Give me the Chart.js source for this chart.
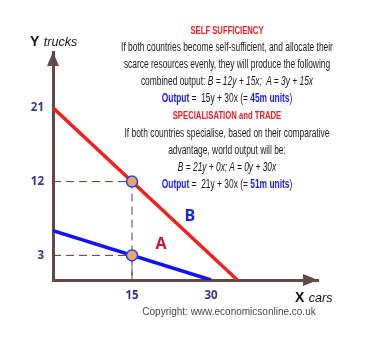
<!DOCTYPE html>
<html>
<head>
<meta charset="utf-8">
<script src="https://cdn.jsdelivr.net/npm/chart.js@4.4.1/dist/chart.umd.min.js"></script>
<style>
  html, body { margin: 0; padding: 0; background: #fff; }
  #wrap { position: relative; width: 384px; height: 341px; overflow: hidden; font-family: "Liberation Sans", Arial, sans-serif; }
  #chart { position: absolute; left: 0; top: 0; }
  .notes { position: absolute; left: 27px; top: 22px; width: 400px; text-align: center;
    font-size: 12px; line-height: 17.1px; color: #1a1a1a; transform: scaleX(0.7); transform-origin: 200px 0; white-space: nowrap; }
  .notes .head { color: #e8202a; font-weight: bold; font-size: 11px; }
  .notes .blue { color: #1a1aff; font-weight: bold; }
  .notes i { font-style: italic; }
  .axis-title { position: absolute; color: #111; white-space: nowrap; }
  .axis-title b { font-size: 14px; }
  .axis-title i { font-size: 12.5px; }
  .copy { position: absolute; left: 129px; top: 306px; width: 200px; text-align: center; font-size: 10px; color: #4a4a4a; white-space: nowrap; }
</style>
</head>
<body>
<div id="wrap">
  <canvas id="chart" width="384" height="341"></canvas>
  <div class="notes">
    <div class="head">SELF SUFFICIENCY</div>
    <div>If both countries become self-sufficient, and allocate their</div>
    <div>scarce resources evenly, they will produce the following</div>
    <div>combined output: <i>B = 12y + 15x;&nbsp; A = 3y + 15x</i></div>
    <div><span class="blue">Output</span> =&nbsp; 15y + 30x (= <span class="blue">45m units</span>)</div>
    <div class="head">SPECIALISATION and TRADE</div>
    <div>If both countries specialise, based on their comparative</div>
    <div>advantage, world output will be:</div>
    <div><i>B = 21y + 0x; A = 0y + 30x</i></div>
    <div><span class="blue">Output</span> =&nbsp; 21y + 30x (= <span class="blue">51m units</span>)</div>
  </div>
  <div class="axis-title" style="left:30px; top:32px;"><b>Y</b> <i>trucks</i></div>
  <div class="axis-title" style="left:295px; top:288px;"><b>X</b> <i>cars</i></div>
  <div class="copy">Copyright: www.economicsonline.co.uk</div>
</div>
<script>
// production possibilities (x = cars, y = trucks)
const xTicks = [15, 30];
const yTicks = [3, 12, 21];
const ppfBx = [0, 35];
const ppfBy = [21, 0];
const ppfAx = [0, 30];
const ppfAy = [6, 0];
const pointX = [15, 15];
const pointY = [12, 3];

const axisColor = '#634a46';

function pairs(xs, ys) {
  return xs.map((x, i) => ({ x: x, y: ys[i] }));
}

// dashed guides from each point to both axes
const guides = pointX.map((x, i) => [{ x: 0, y: pointY[i] }, { x: x, y: pointY[i] }, { x: x, y: 0 }]);

const arrowsAndLabels = {
  id: 'arrowsAndLabels',
  afterDraw(chart) {
    const ctx = chart.ctx;
    const a = chart.chartArea;
    ctx.save();
    ctx.fillStyle = axisColor;
    // y arrow
    ctx.beginPath();
    ctx.moveTo(a.left, a.top);
    ctx.lineTo(a.left - 6, a.top + 14);
    ctx.lineTo(a.left + 6, a.top + 14);
    ctx.closePath();
    ctx.fill();
    // x arrow
    ctx.beginPath();
    ctx.moveTo(a.right, a.bottom);
    ctx.lineTo(a.right - 15, a.bottom - 6);
    ctx.lineTo(a.right - 15, a.bottom + 6);
    ctx.closePath();
    ctx.fill();

    // curve names
    const xs = chart.scales.x, ys = chart.scales.y;
    ctx.font = 'bold 16px "Open Sans", "Liberation Sans", sans-serif';
    ctx.textAlign = 'center';
    ctx.textBaseline = 'middle';
    ctx.fillStyle = '#1a22ee';
    ctx.fillText('B', xs.getPixelForValue(26), ys.getPixelForValue(7.7));
    ctx.fillStyle = '#cc1040';
    ctx.fillText('A', xs.getPixelForValue(20.5), ys.getPixelForValue(4.3));
    ctx.restore();
  }
};

const tickFont = { family: '"Open Sans", "Liberation Sans", sans-serif', size: 11.5, weight: 'bold' };

new Chart(document.getElementById('chart'), {
  type: 'line',
  data: {
    datasets: [
      {
        data: pairs(pointX, pointY),
        showLine: false,
        pointRadius: 5.5,
        pointBackgroundColor: '#e9a46b',
        pointBorderColor: '#2244ee',
        pointBorderWidth: 1.5,
        order: 0
      },
      {
        data: pairs(ppfBx, ppfBy),
        borderColor: '#ee2222',
        borderWidth: 3.5,
        pointRadius: 0,
        order: 1
      },
      {
        data: pairs(ppfAx, ppfAy),
        borderColor: '#1010ff',
        borderWidth: 3.5,
        pointRadius: 0,
        order: 1
      },
      ...guides.map(g => ({
        data: g,
        borderColor: '#5a4030',
        borderWidth: 1,
        borderDash: [8, 5],
        pointRadius: 0,
        order: 2
      }))
    ]
  },
  options: {
    responsive: false,
    animation: false,
    layout: { padding: { left: 0, top: 52, right: 66, bottom: 0 } },
    plugins: { legend: { display: false }, tooltip: { enabled: false } },
    scales: {
      x: {
        type: 'linear',
        min: 0,
        max: 50.3,
        grid: { display: false, drawTicks: false },
        border: { display: true, color: axisColor, width: 3 },
        afterBuildTicks: s => { s.ticks = xTicks.map(v => ({ value: v })); },
        afterFit: s => { s.height = 61; },
        ticks: { padding: 9, color: '#34368c', font: tickFont }
      },
      y: {
        type: 'linear',
        min: 0,
        max: 27.8,
        grid: { display: false, drawTicks: false },
        border: { display: true, color: axisColor, width: 3 },
        afterBuildTicks: s => { s.ticks = yTicks.map(v => ({ value: v })); },
        afterFit: s => { s.width = 53; },
        ticks: { padding: 9, color: '#34368c', font: tickFont }
      }
    }
  },
  plugins: [arrowsAndLabels]
});
</script>
</body>
</html>
